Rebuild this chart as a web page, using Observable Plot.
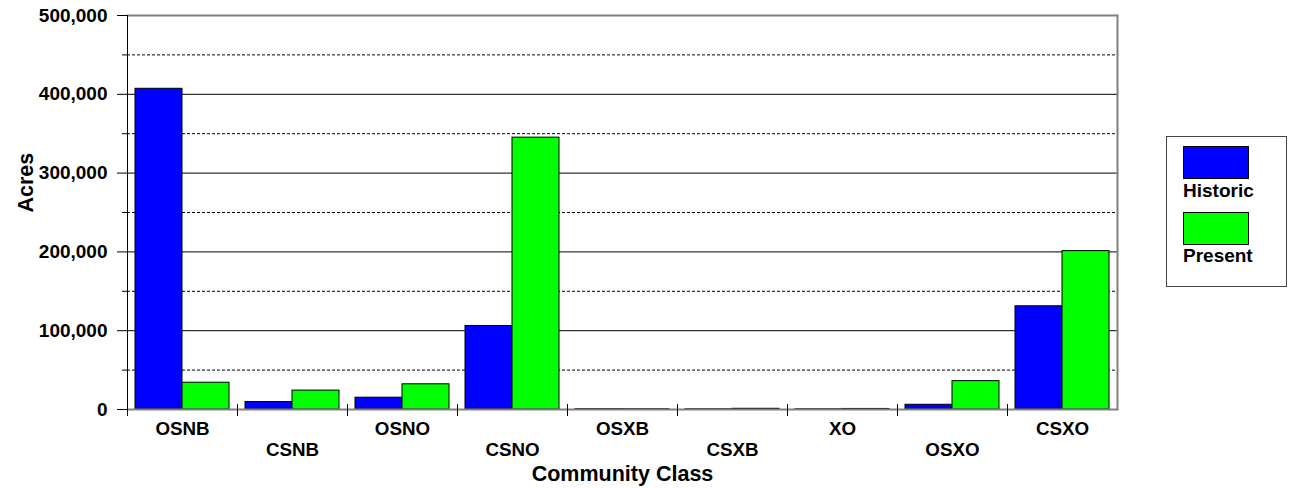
<!DOCTYPE html>
<html>
<head>
<meta charset="utf-8">
<script src="https://cdn.jsdelivr.net/npm/d3@7"></script>
<script src="https://cdn.jsdelivr.net/npm/@observablehq/plot@0.6"></script>
<style>
  html, body { margin: 0; padding: 0; background: white; }
  #wrap { position: relative; width: 1291px; height: 488px; font-family: 'Liberation Sans', Arial, sans-serif; font-weight: bold; }
  #legend { position: absolute; left: 1166px; top: 136px; width: 121px; height: 151px; border: 1px solid #444; box-sizing: border-box; background: white; }
  .sw { position: absolute; left: 16px; width: 66px; height: 33px; border: 1px solid black; box-sizing: border-box; }
  .lbl { position: absolute; left: 16px; font-size: 19px; line-height: 19px; color: black; white-space: nowrap; }
</style>
</head>
<body>
<div id="wrap"></div>
<script>
const categories = ["OSNB", "CSNB", "OSNO", "CSNO", "OSXB", "CSXB", "XO", "OSXO", "CSXO"];
const historic = [407000, 9500, 15000, 106000, 500, 300, 300, 6000, 131000];
const present = [34000, 24000, 32000, 345000, 400, 900, 700, 36000, 201000];
const seriesNames = ["Historic", "Present"];
const seriesColors = ["#0000ff", "#00ff00"];
const yMajorTicks = [0, 100000, 200000, 300000, 400000, 500000];
const yMinorTicks = [50000, 150000, 250000, 350000, 450000];
const xTitle = "Community Class";
const yTitle = "Acres";

const seriesValues = [historic, present];
const data = categories.flatMap((c, i) =>
  seriesNames.map((s, j) => ({category: c, series: s, acres: seriesValues[j][i]}))
);
const upperCats = categories.filter((d, i) => i % 2 === 0);
const lowerCats = categories.filter((d, i) => i % 2 === 1);

const chart = Plot.plot({
  width: 1291,
  height: 488,
  marginLeft: 124,
  marginRight: 172,
  marginTop: 15,
  marginBottom: 79,
  style: {fontFamily: "'Liberation Sans', Arial, sans-serif", fontWeight: "bold", fontSize: "18.5px", color: "black", background: "white", overflow: "visible"},
  fx: {domain: categories, padding: 0, label: null, axis: null},
  x: {domain: seriesNames, paddingInner: 0, paddingOuter: 0.164, axis: null},
  y: {domain: [0, 500000]},
  color: {domain: seriesNames, range: seriesColors},
  marks: [
    Plot.ruleY(yMinorTicks, {stroke: "black", strokeDasharray: "3,2", strokeWidth: 1}),
    Plot.ruleY(yMajorTicks.filter(d => d > 0 && d < 500000), {stroke: "black", strokeWidth: 1}),
    Plot.ruleY([500000], {stroke: "#808080", strokeWidth: 2}),
    Plot.barY(data, {fx: "category", x: "series", y: "acres", fill: "series", stroke: "black", strokeWidth: 1}),
    Plot.ruleY([0], {stroke: "#808080", strokeWidth: 2}),
    Plot.frame({anchor: "left", facetAnchor: "left", insetBottom: -6, stroke: "black"}),
    Plot.frame({anchor: "left", insetTop: 389, insetBottom: -6, stroke: "black"}),
    Plot.frame({anchor: "right", facetAnchor: "right", stroke: "#808080", strokeWidth: 2}),
    Plot.axisY(yMajorTicks, {tickSize: 10, tickPadding: 10, tickFormat: d3.format(","), label: null, fontSize: 19}),
    Plot.axisY(yMinorTicks, {tickSize: 5, tickFormat: () => "", label: null}),
    Plot.text([yTitle], {frameAnchor: "left", rotate: -90, dx: -101, fontSize: 21.5, facetAnchor: "left"}),
    Plot.text(upperCats, {fx: d => d, text: d => d, frameAnchor: "bottom", lineAnchor: "middle", dy: 19.8, fontSize: 18.8}),
    Plot.text(lowerCats, {fx: d => d, text: d => d, frameAnchor: "bottom", lineAnchor: "middle", dy: 40.1, fontSize: 18.8}),
    Plot.text([xTitle], {frameAnchor: "bottom", lineAnchor: "middle", dy: 64.8, fontSize: 21.5, facet: "super"})
  ]
});

const wrap = document.getElementById("wrap");
wrap.appendChild(chart);

const legend = document.createElement("div");
legend.id = "legend";
seriesNames.forEach((s, j) => {
  const sw = document.createElement("div");
  sw.className = "sw";
  sw.style.top = (9 + j * 66) + "px";
  sw.style.background = seriesColors[j];
  legend.appendChild(sw);
  const lb = document.createElement("span");
  lb.className = "lbl";
  lb.style.top = (44 + j * 65) + "px";
  lb.textContent = s;
  legend.appendChild(lb);
});
wrap.appendChild(legend);
</script>
</body>
</html>
